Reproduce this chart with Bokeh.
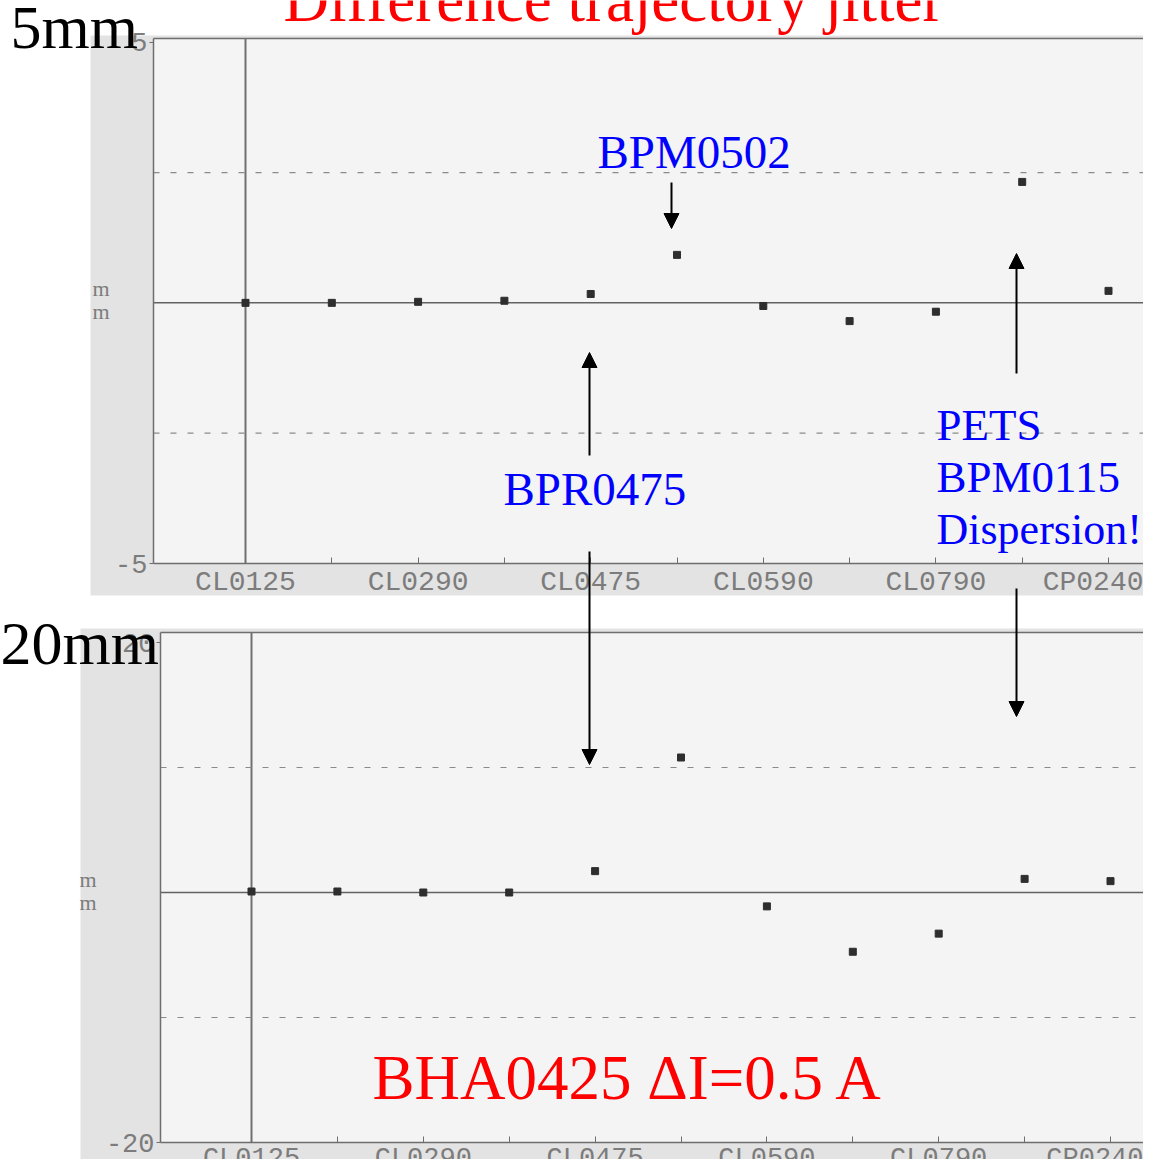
from bokeh.plotting import figure
from bokeh.models import (Range1d, FixedTicker, BoxAnnotation, Label, Arrow, NormalHead,
                          LinearAxis)
from bokeh.embed import file_html
from bokeh.resources import INLINE

# ---------------- data ----------------
bpm_pos = [0, 1, 2, 3, 4, 5, 6, 7, 8, 9, 10]
jitter_5mm = [0.0, 0.0, 0.02, 0.04, 0.17, 0.92, -0.06, -0.35, -0.17, 2.32, 0.23]
jitter_20mm = [0.08, 0.08, 0.0, 0.0, 1.71, 10.8, -1.11, -4.74, -3.29, 1.09, 0.91]
tick_pos = [0, 2, 4, 6, 8, 10]
minor_pos = [1, 3, 5, 7, 9]
tick_names = ["CL0125", "CL0290", "CL0475", "CL0590", "CL0790", "CP0240"]
top_limit = 5
top_band = 2.5
bot_limit = 20
bot_band = 10

W = 1143
H = 1159
SCAN = "#e3e3e3"
PAPER = "#f4f4f4"
AXC = "#6e6e6e"
TXC = "#7c7c7c"
SERIF = "Liberation Serif"
MONO = "Liberation Mono"


# canvas-pixel -> data helpers (layout placement only)
def tx(px):
    return (px - 245) / 86.3


def ty(py):
    return (563 - py) / 52.13 - 5


def bx(px):
    return (px - 251) / 85.9


def by(py):
    return (892 - py) / 12.5


p = figure(width=W, height=H,
           x_range=Range1d(tx(0), tx(W)),
           y_range=Range1d(ty(H), ty(0)),
           x_axis_type=None, y_axis_type=None,
           output_backend="svg", toolbar_location=None,
           min_border=0, min_border_left=0, min_border_right=0,
           min_border_top=0, min_border_bottom=0)
p.extra_x_ranges = {"bx": Range1d(bx(0), bx(W))}
p.extra_y_ranges = {"by": Range1d(by(H), by(0))}
p.grid.visible = False
p.outline_line_color = None
p.border_fill_color = "white"
p.background_fill_color = "white"

# panel geometry (data units of each panel)
t_left, t_right, t_top = tx(153), tx(1200), top_limit + 0.07
b_left, b_right, b_top = bx(160), bx(1200), by(632)

# scanned grey sheets + plot paper
p.add_layout(BoxAnnotation(left=tx(90), right=tx(1200), top=ty(35), bottom=ty(595),
                           fill_color=SCAN, fill_alpha=1, line_color=None, level="underlay"))
p.add_layout(BoxAnnotation(left=t_left, right=t_right, top=t_top, bottom=-top_limit,
                           fill_color=PAPER, fill_alpha=1, line_color=None, level="underlay"))
p.add_layout(BoxAnnotation(left=bx(80), right=bx(1200), top=by(628), bottom=by(1200),
                           x_range_name="bx", y_range_name="by",
                           fill_color=SCAN, fill_alpha=1, line_color=None, level="underlay"))
p.add_layout(BoxAnnotation(left=b_left, right=b_right, top=b_top, bottom=-bot_limit,
                           x_range_name="bx", y_range_name="by",
                           fill_color=PAPER, fill_alpha=1, line_color=None, level="underlay"))


def style_axis(ax, size):
    ax.axis_line_color = AXC
    ax.axis_line_width = 1.5
    ax.major_tick_line_color = AXC
    ax.minor_tick_line_color = AXC
    ax.major_label_text_font = MONO
    ax.major_label_text_color = TXC
    ax.major_label_text_font_size = size


def add_axes(limit, xleft, xright, ytop, xsize, standoff, xr=None, yr=None):
    kw = {}
    if xr:
        kw = dict(x_range_name=xr, y_range_name=yr)
    xa = LinearAxis(fixed_location=-limit, bounds=(xleft, xright),
                    ticker=FixedTicker(ticks=tick_pos, minor_ticks=minor_pos),
                    major_label_overrides=dict(zip(tick_pos, tick_names)), **kw)
    style_axis(xa, xsize)
    xa.major_tick_in = 6
    xa.major_tick_out = 0
    xa.minor_tick_in = 6
    xa.minor_tick_out = 0
    xa.major_label_standoff = standoff
    p.add_layout(xa, "below")

    ya = LinearAxis(fixed_location=xleft, bounds=(-limit, ytop),
                    ticker=FixedTicker(ticks=[-limit, limit]),
                    major_label_overrides={limit: str(limit), -limit: "-" + str(limit)}, **kw)
    style_axis(ya, "27px")
    ya.major_tick_in = 0
    ya.major_tick_out = 4
    ya.minor_tick_line_color = None
    ya.major_label_standoff = 2
    p.add_layout(ya, "left")


def ref_lines(limit, band, xleft, xright, ytop, **kw):
    # frame top, zero line, first-BPM vertical, +-band dashed
    p.segment(x0=[xleft], y0=[ytop], x1=[xright], y1=[ytop], line_color=AXC, line_width=1.5, **kw)
    p.segment(x0=[xleft], y0=[0], x1=[xright], y1=[0], line_color="#626262", line_width=1.5, **kw)
    p.segment(x0=[bpm_pos[0]], y0=[-limit], x1=[bpm_pos[0]], y1=[ytop],
              line_color="#707070", line_width=2, **kw)
    p.segment(x0=[xleft, xleft], y0=[band, -band], x1=[xright, xright], y1=[band, -band],
              line_color="#8a8a8a", line_width=1.2, line_dash="6 11", **kw)


ref_lines(top_limit, top_band, t_left, t_right, t_top)
ref_lines(bot_limit, bot_band, b_left, b_right, b_top, x_range_name="bx", y_range_name="by")

p.scatter(bpm_pos, jitter_5mm, marker="square", size=7, color="#2e2e2e")
p.scatter(bpm_pos, jitter_20mm, marker="square", size=7, color="#2e2e2e",
          x_range_name="bx", y_range_name="by")

add_axes(top_limit, t_left, t_right, t_top, "28px", 3)
add_axes(bot_limit, b_left, b_right, b_top, "27px", 1, "bx", "by")


def arrow(x0, y0, x1, y1):
    p.add_layout(Arrow(end=NormalHead(size=15, fill_color="black", line_color="black"),
                       x_start=tx(x0), y_start=ty(y0), x_end=tx(x1), y_end=ty(y1),
                       line_color="black", line_width=2))


def label(x, base, text, size, color):
    # base: wanted baseline (canvas px); renderer puts the glyphs ~0.39 em lower
    y = base - 0.39 * size
    p.add_layout(Label(x=tx(x), y=ty(y), text=text, text_font=SERIF,
                       text_font_size=f"{size}px", text_color=color,
                       text_baseline="alphabetic", text_align="left"))


label(283, 24, "Difference trajectory jitter", 63, "#ff0000")
label(10, 51, "5mm", 62, "black")
label(92, 297, "m", 22, TXC)
label(92, 320, "m", 22, TXC)
label(597, 170, "BPM0502", 47, "#0000ff")
label(503, 507, "BPR0475", 47, "#0000ff")
label(936, 442, "PETS", 45, "#0000ff")
label(936, 494, "BPM0115", 45, "#0000ff")
label(936, 546, "Dispersion!", 44, "#0000ff")
label(0, 667, "20mm", 62, "black")
label(79, 888, "m", 22, TXC)
label(79, 911, "m", 22, TXC)
label(372, 1102, "BHA0425 \u0394I=0.5 A", 63, "#ff0000")

arrow(671, 182, 671, 228)
arrow(589, 455, 589, 352)
arrow(1016, 373, 1016, 253)
arrow(589, 551, 589, 764)
arrow(1016, 588, 1016, 716)

open("out.html", "w").write(file_html(p, INLINE))
